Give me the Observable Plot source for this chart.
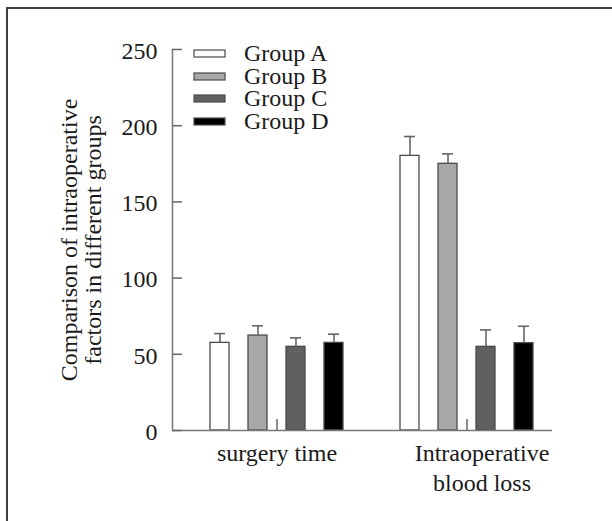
<!DOCTYPE html>
<html>
<head>
<meta charset="utf-8">
<script src="https://cdn.jsdelivr.net/npm/d3@7"></script>
<script src="https://cdn.jsdelivr.net/npm/@observablehq/plot@0.6"></script>
<style>
  html, body { margin: 0; padding: 0; background: #fff; }
  #wrap { position: relative; width: 612px; height: 521px; overflow: hidden; background: #fff; }
  #wrap svg.chart { position: absolute; left: 0; top: 0; }
  #border { position: absolute; left: 6px; top: 7px; width: 700px; height: 600px;
            border-top: 2px solid #404040; border-left: 2px solid #404040; pointer-events: none; }
  #wrap .lg-swatches { position: absolute; left: 194px; top: 42px; margin: 0; min-height: 0; width: 200px;
            font-family: "Liberation Serif", serif; font-size: 24px; color: #1a1a1a; }
  #wrap .lg-swatches .lg-swatch { height: 22.7px; line-height: 22.7px; padding: 0; margin: 0;
            display: flex; align-items: center; overflow: visible; }
  #wrap .lg-swatches .lg-swatch-label { display: block; height: 22.7px; line-height: 22.7px;
            overflow: visible; white-space: nowrap; }
  #wrap .lg-swatches .lg-swatch svg { margin-right: 19px; overflow: visible; flex-shrink: 0; }
  #wrap .lg-swatches .lg-swatch svg rect { stroke: #4a4a4a; stroke-width: 1.2; }
</style>
</head>
<body>
<div id="wrap"></div>
<script>
// ---- data ----
const categories = ["surgery time", "Intraoperative\nblood loss"];
const groups = ["Group A", "Group B", "Group C", "Group D"];
const colors = ["#ffffff", "#a8a8a8", "#606060", "#000000"];
const surgeryTimeMean = [57.5, 62.3, 54.9, 57.5];
const surgeryTimeSD   = [6.1, 6.4, 5.9, 5.7];
const bloodLossMean   = [180.2, 175.0, 54.9, 57.3];
const bloodLossSD     = [12.7, 6.5, 11.1, 11.1];
const yTicks = [0, 50, 100, 150, 200, 250];
const yLabel = "Comparison of intraoperative\nfactors in different groups";

const means = [surgeryTimeMean, bloodLossMean];
const sds = [surgeryTimeSD, bloodLossSD];
const slot = groups.length + 1;           // one empty slot between categories
const rows = categories.flatMap((c, ci) => groups.map((g, gi) => ({
  category: c, group: g, pos: ci * slot + gi, mean: means[ci][gi], sd: sds[ci][gi]
})));
const catTicks = categories.map((c, ci) => ci * slot + (groups.length - 1) / 2);
const catLabel = d => categories[catTicks.indexOf(d)];
const xDomain = [-1.25, 8.75];

const font = "Liberation Serif";
const plot = Plot.plot({
  width: 612, height: 521,
  marginLeft: 172, marginRight: 60, marginTop: 49, marginBottom: 91,
  x: {domain: xDomain},
  y: {domain: [0, 250]},
  color: {domain: groups, range: colors},
  style: {background: "transparent", fontFamily: font, fontSize: "24px", color: "#1a1a1a"},
  className: "chart",
  marks: [
    Plot.rectY(rows, {x1: d => d.pos - 0.25, x2: d => d.pos + 0.25, y: "mean", fill: "group",
                      stroke: "#4a4a4a", strokeWidth: 1.3}),
    Plot.ruleX(rows, {x: "pos", y1: "mean", y2: d => d.mean + d.sd, stroke: "#666", strokeWidth: 1.6}),
    Plot.ruleY(rows, {y: d => d.mean + d.sd, x1: d => d.pos - 0.145, x2: d => d.pos + 0.145,
                      stroke: "#666", strokeWidth: 1.6}),
    Plot.ruleY([0], {stroke: "#777", strokeWidth: 1.5}),
    Plot.ruleX([xDomain[0]], {stroke: "#777", strokeWidth: 1.5}),
    Plot.axisY(yTicks, {tickSize: -10, tickPadding: 25, fontSize: 24, lineHeight: 1.2, stroke: "#666", strokeWidth: 1.5,
                        label: yLabel, labelAnchor: "center", labelOffset: 113, labelArrow: "none"}),
    Plot.axisX(catTicks, {tickSize: -11, tickFormat: () => "", stroke: "#666", strokeWidth: 1.5, label: null}),
    Plot.axisX(catTicks.slice(0, 1), {tickSize: 0, tickPadding: 9, tickFormat: catLabel, fontSize: 24,
                        lineHeight: 1.25, label: null}),
    Plot.axisX(catTicks.slice(1), {tickSize: 0, tickPadding: 9, dx: 15, tickFormat: catLabel, fontSize: 24,
                        lineHeight: 1.25, label: null})
  ]
});

const legend = plot.legend("color", {columns: 1, swatchWidth: 31, swatchHeight: 7, className: "lg"});
const wrap = document.getElementById("wrap");
wrap.appendChild(plot);
if (legend) wrap.appendChild(legend);
const border = document.createElement("div");
border.id = "border";
wrap.appendChild(border);
</script>
</body>
</html>
